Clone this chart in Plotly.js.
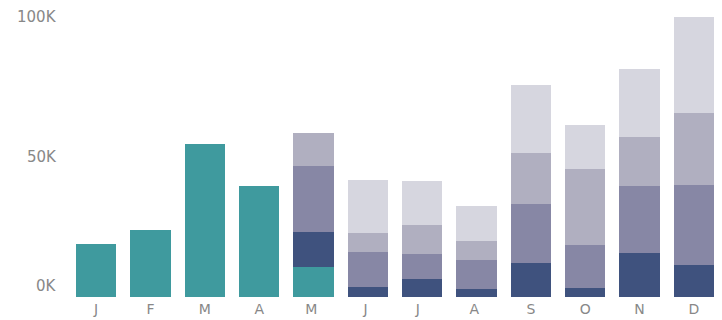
<!DOCTYPE html>
<html>
<head>
<meta charset="utf-8">
<script src="https://cdn.plot.ly/plotly-3.0.1.min.js"></script>
<style>
html,body{margin:0;padding:0;background:#fff;}
#chart{width:722px;height:320px;}
</style>
</head>
<body>
<div id="chart"></div>
<script>
var months = ["J","F","M","A","M ","J ","J  ","A ","S","O","N","D"];
var tealVals      = [19000, 23800, 54600, 39800, 10700, 0, 0, 0, 0, 0, 0, 0];
var navyVals      = [0, 0, 0, 0, 12600, 3600, 6600, 3000, 12300, 3100, 15900, 11300];
var purpleVals    = [0, 0, 0, 0, 23400, 12500, 8800, 10400, 20900, 15500, 23600, 28700];
var greyVals      = [0, 0, 0, 0, 11900, 6600, 10400, 6700, 18200, 27100, 17700, 25900];
var lightVals     = [0, 0, 0, 0, 0, 19100, 15600, 12400, 24300, 15900, 24200, 34200];
var yTickVals = [0, 50000, 100000];
var yTickText = ["0K", "50K", "100K"];

var colors = ["#3f9a9e", "#3f527e", "#8787a5", "#b0afc0", "#d6d6df"];
var series = [tealVals, navyVals, purpleVals, greyVals, lightVals];

var traces = series.map(function(vals, i){
  return {
    type: "bar",
    x: months,
    y: vals,
    marker: {color: colors[i], line: {width: 0}},
    hoverinfo: "skip"
  };
});

var labelFont = {family: "DejaVu Sans, sans-serif", size: 15, color: "#888888"};

var annotations = yTickVals.map(function(v, i){
  return {
    xref: "paper", yref: "y",
    x: 0, y: v,
    xanchor: "right", yanchor: "middle",
    xshift: -10,
    yshift: v === 0 ? 11 : 0,
    text: yTickText[i],
    showarrow: false,
    font: labelFont
  };
});

var layout = {
  width: 722, height: 320,
  margin: {l: 69, r: 1, t: 15, b: 23, pad: 0},
  paper_bgcolor: "#ffffff",
  plot_bgcolor: "#ffffff",
  barmode: "stack",
  bargap: 0.255,
  showlegend: false,
  xaxis: {
    type: "category",
    range: [-0.5, 11.5],
    showgrid: false, zeroline: false, showline: false,
    ticks: "",
    ticklabelstandoff: 2,
    tickfont: {family: "DejaVu Sans, sans-serif", size: 14, color: "#888888"},
    fixedrange: true
  },
  yaxis: {
    range: [0, 100800],
    showgrid: false, zeroline: false, showline: false,
    showticklabels: false,
    ticks: "",
    fixedrange: true
  },
  annotations: annotations
};

Plotly.newPlot("chart", traces, layout, {displayModeBar: false, staticPlot: true});
</script>
</body>
</html>
